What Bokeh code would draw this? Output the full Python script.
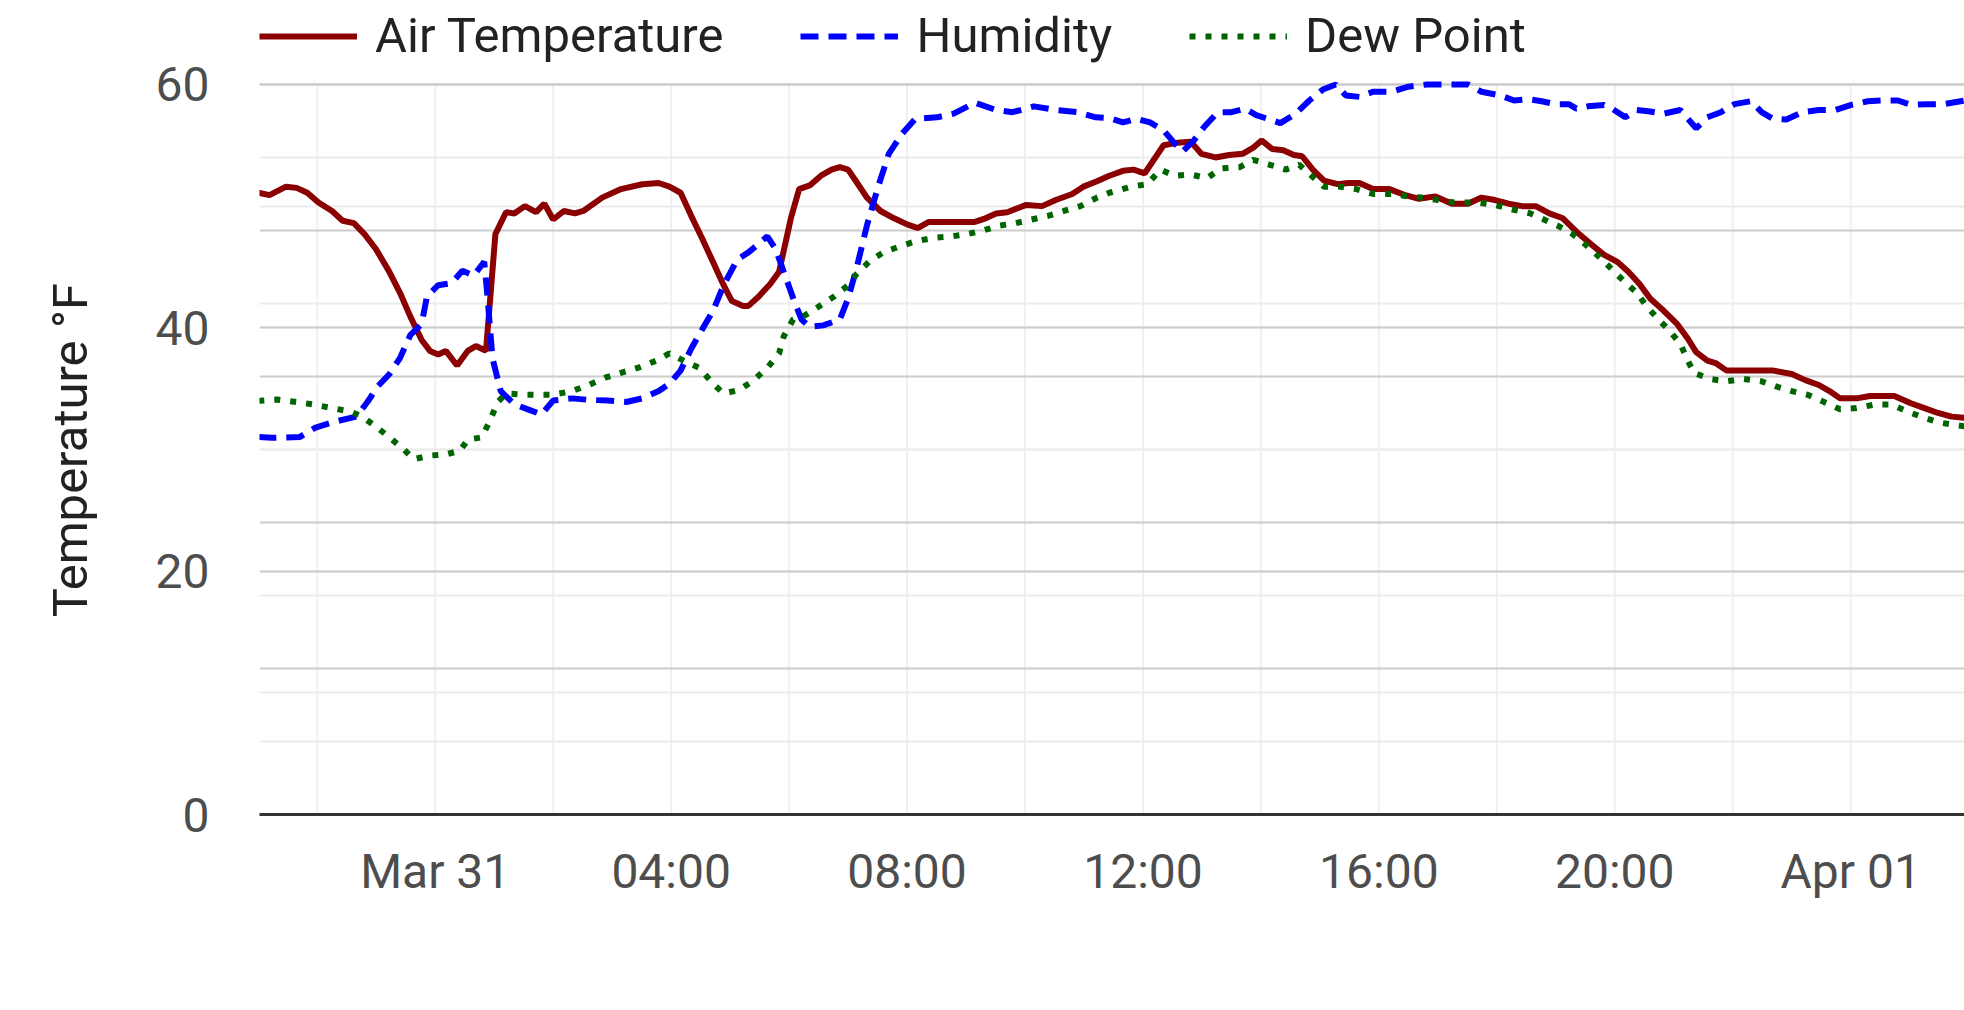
from bokeh.plotting import figure
from bokeh.models import (Range1d, SingleIntervalTicker, FixedTicker, Grid,
                          Legend, LegendItem)
from bokeh.embed import file_html
from bokeh.resources import INLINE

# Time in hours relative to Mar 31 00:00
air_hours = [-3.0, -2.81, -2.53, -2.35, -2.17, -1.98, -1.75, -1.57, -1.38, -1.20,
             -1.01, -0.79, -0.60, -0.42, -0.23, -0.09, 0.05, 0.18, 0.37, 0.55,
             0.69, 0.86, 1.02, 1.20, 1.34, 1.52, 1.71, 1.85, 2.00, 2.18,
             2.37, 2.51, 2.83, 3.15, 3.51, 3.79, 3.97, 4.16, 4.34, 4.53,
             4.71, 4.89, 5.03, 5.22, 5.31, 5.49, 5.68, 5.83, 6.03, 6.17,
             6.35, 6.54, 6.72, 6.86, 7.00, 7.14, 7.32, 7.55, 7.78, 8.00,
             8.18, 8.37, 8.69, 9.15, 9.33, 9.51, 9.70, 10.02, 10.29, 10.52,
             10.80, 10.99, 11.20, 11.43, 11.66, 11.84, 12.03, 12.35, 12.58, 12.81,
             12.99, 13.23, 13.46, 13.69, 13.87, 14.01, 14.19, 14.38, 14.56, 14.70,
             14.88, 15.07, 15.30, 15.48, 15.67, 15.90, 16.18, 16.45, 16.68, 16.96,
             17.24, 17.51, 17.74, 17.97, 18.20, 18.43, 18.66, 18.89, 19.12, 19.35,
             19.59, 19.82, 20.05, 20.23, 20.42, 20.60, 20.83, 21.06, 21.24, 21.38,
             21.57, 21.71, 21.89, 22.17, 22.67, 23.00, 23.23, 23.46, 23.64, 23.82,
             24.10, 24.33, 24.74, 25.02, 25.25, 25.48, 25.71, 25.93]
air_temp = [51.1, 50.9, 51.6, 51.5, 51.1, 50.3, 49.6, 48.8, 48.6, 47.7,
            46.5, 44.7, 42.9, 40.9, 39.0, 38.1, 37.8, 38.1, 36.9, 38.1,
            38.5, 38.1, 47.7, 49.5, 49.4, 50.0, 49.5, 50.2, 48.9, 49.6,
            49.4, 49.6, 50.7, 51.4, 51.8, 51.9, 51.6, 51.1, 49.2, 47.3,
            45.4, 43.5, 42.2, 41.8, 41.8, 42.6, 43.6, 44.6, 49.0, 51.4,
            51.7, 52.5, 53.0, 53.2, 53.0, 52.0, 50.7, 49.6, 49.0, 48.5,
            48.2, 48.7, 48.7, 48.7, 49.0, 49.4, 49.5, 50.1, 50.0, 50.5,
            51.0, 51.6, 52.0, 52.5, 52.9, 53.0, 52.7, 55.0, 55.2, 55.3,
            54.3, 54.0, 54.2, 54.3, 54.8, 55.4, 54.7, 54.6, 54.2, 54.1,
            53.0, 52.1, 51.8, 51.9, 51.9, 51.4, 51.4, 50.9, 50.6, 50.8,
            50.2, 50.2, 50.7, 50.5, 50.2, 50.0, 50.0, 49.4, 49.0, 47.9,
            46.9, 46.0, 45.4, 44.6, 43.6, 42.4, 41.4, 40.3, 39.1, 38.0,
            37.3, 37.1, 36.5, 36.5, 36.5, 36.2, 35.7, 35.3, 34.8, 34.2,
            34.2, 34.4, 34.4, 33.8, 33.4, 33.0, 32.7, 32.6]

hum_hours = [-3.0, -2.77, -2.30, -2.03, -1.71, -1.34, -1.15, -0.97, -0.78, -0.60,
             -0.42, -0.23, -0.14, 0.05, 0.28, 0.46, 0.65, 0.83, 0.88, 0.97,
             1.11, 1.34, 1.57, 1.80, 2.00, 2.32, 2.60, 2.92, 3.24, 3.51,
             3.79, 3.97, 4.16, 4.34, 4.53, 4.71, 4.89, 5.12, 5.31, 5.49,
             5.63, 5.77, 5.91, 6.07, 6.21, 6.35, 6.58, 6.86, 7.00, 7.14,
             7.32, 7.51, 7.69, 7.92, 8.14, 8.51, 8.79, 9.15, 9.51, 9.79,
             10.15, 10.52, 10.89, 11.20, 11.43, 11.66, 11.89, 12.12, 12.35, 12.53,
             12.67, 12.86, 13.04, 13.27, 13.50, 13.73, 13.92, 14.15, 14.33, 14.59,
             14.82, 15.05, 15.27, 15.44, 15.67, 15.90, 16.22, 16.50, 16.82, 17.19,
             17.51, 17.74, 18.06, 18.29, 18.53, 18.76, 18.99, 19.22, 19.35, 19.54,
             19.82, 19.95, 20.18, 20.37, 20.60, 20.83, 21.11, 21.24, 21.38, 21.57,
             21.80, 22.03, 22.31, 22.49, 22.68, 22.91, 23.18, 23.46, 23.74, 24.01,
             24.29, 24.52, 24.80, 25.02, 25.30, 25.57, 25.93]
humidity = [51.7, 51.6, 51.7, 53.0, 53.8, 54.5, 56.5, 58.7, 60.3, 62.5,
            65.7, 67.2, 71.0, 72.5, 72.8, 74.5, 73.8, 75.7, 71.5, 62.5,
            58.0, 56.2, 55.5, 54.8, 56.7, 57.0, 56.8, 56.7, 56.5, 57.0,
            58.0, 59.0, 60.8, 63.8, 66.5, 69.0, 72.5, 76.0, 77.0, 78.2,
            79.2, 77.5, 74.3, 70.7, 67.8, 66.8, 67.0, 67.8, 70.7, 74.7,
            80.7, 86.0, 90.5, 93.3, 95.3, 95.5, 96.0, 97.5, 96.5, 96.2,
            97.0, 96.5, 96.2, 95.5, 95.4, 94.8, 95.3, 94.8, 93.7, 92.0,
            90.8, 92.3, 94.2, 96.2, 96.2, 96.7, 95.8, 95.2, 94.7, 96.0,
            97.8, 99.3, 100.0, 98.5, 98.3, 99.0, 99.0, 99.7, 100.0, 100.0,
            100.0, 99.0, 98.5, 97.8, 98.0, 97.7, 97.3, 97.3, 96.7, 97.0,
            97.2, 96.7, 95.5, 96.5, 96.3, 96.0, 96.5, 95.3, 94.0, 95.5,
            96.2, 97.3, 97.7, 96.2, 95.3, 95.2, 96.2, 96.5, 96.5, 97.2,
            97.7, 97.8, 97.8, 97.2, 97.3, 97.3, 97.8]

dew_hours = [-3.0, -2.68, -2.35, -2.07, -1.75, -1.43, -1.24, -1.01, -0.78, -0.55,
             -0.37, -0.09, 0.18, 0.42, 0.55, 0.79, 0.92, 1.06, 1.20, 1.52,
             1.80, 2.00, 2.32, 2.60, 2.88, 3.15, 3.43, 3.75, 3.97, 4.25,
             4.48, 4.71, 4.89, 5.16, 5.40, 5.63, 5.83, 5.91, 6.07, 6.26,
             6.49, 6.77, 7.00, 7.14, 7.37, 7.60, 7.88, 8.14, 8.46, 8.74,
             9.02, 9.29, 9.57, 9.84, 10.11, 10.39, 10.66, 10.94, 11.22, 11.43,
             11.80, 12.07, 12.30, 12.53, 12.81, 13.09, 13.32, 13.64, 13.87, 14.15,
             14.42, 14.65, 14.88, 15.07, 15.35, 15.62, 15.90, 16.22, 16.50, 16.73,
             17.00, 17.28, 17.65, 17.97, 18.29, 18.57, 18.80, 19.03, 19.26, 19.49,
             19.72, 19.91, 20.14, 20.37, 20.55, 20.74, 20.92, 21.11, 21.24, 21.34,
             21.61, 21.89, 22.17, 22.49, 22.72, 23.00, 23.27, 23.55, 23.82, 24.10,
             24.42, 24.69, 24.97, 25.25, 25.52, 25.93]
dew_point = [34.0, 34.1, 33.9, 33.7, 33.4, 33.1, 32.7, 31.9, 31.0, 30.1,
             29.2, 29.5, 29.6, 29.9, 30.8, 31.0, 32.3, 33.9, 34.6, 34.5,
             34.5, 34.5, 34.8, 35.3, 35.9, 36.3, 36.7, 37.3, 37.9, 37.2,
             36.7, 35.4, 34.6, 34.9, 35.7, 36.7, 37.9, 39.3, 40.7, 41.0,
             41.7, 42.6, 43.5, 44.4, 45.5, 46.2, 46.7, 47.1, 47.4, 47.5,
             47.7, 48.0, 48.4, 48.6, 48.9, 49.2, 49.6, 50.0, 50.7, 51.1,
             51.6, 51.8, 53.0, 52.5, 52.6, 52.3, 53.1, 53.2, 53.8, 53.4,
             53.0, 53.4, 52.4, 51.6, 51.6, 51.4, 51.0, 51.0, 50.8, 50.7,
             50.5, 50.3, 50.3, 50.1, 49.7, 49.4, 48.9, 48.4, 47.8, 46.9,
             45.9, 45.0, 43.9, 42.9, 41.7, 40.7, 39.8, 38.7, 37.3, 36.3,
             35.8, 35.6, 35.8, 35.6, 35.2, 34.8, 34.5, 33.9, 33.3, 33.4,
             33.7, 33.7, 33.1, 32.6, 32.2, 31.9]

tick_hours = [0, 4, 8, 12, 16, 20, 24]
tick_labels = ["Mar 31", "04:00", "08:00", "12:00", "16:00", "20:00", "Apr 01"]
minor_hours = [-2, 2, 6, 10, 14, 18, 22]

temp_ticks = [0, 20, 40, 60]
hum_ticks = [0, 20, 40, 60, 80, 100]
hum_minor_ticks = [10, 30, 50, 70, 90]

series_names = ["Air Temperature", "Humidity", "Dew Point"]

FONT = "Roboto"
FRAME_H = 814
Y_TOP = 66.9          # frame extends above 60 to leave room for the legend

p = figure(frame_width=1705, frame_height=FRAME_H,
           output_backend="svg", toolbar_location=None,
           x_range=Range1d(-2.98, 25.93), y_range=Range1d(0, Y_TOP),
           min_border_left=259, min_border_right=0, min_border_top=0,
           min_border_bottom=150)
p.title.visible = False
p.extra_y_ranges = {"hum": Range1d(0, Y_TOP * 100 / 60)}
p.outline_line_color = None
p.background_fill_color = "white"
p.border_fill_color = "white"

# x axis
p.xaxis.ticker = FixedTicker(ticks=tick_hours, minor_ticks=minor_hours)
p.xaxis.major_label_overrides = dict(zip(tick_hours, tick_labels))
p.xaxis.axis_line_color = "#333333"
p.xaxis.axis_line_width = 3
p.xaxis.major_tick_line_color = None
p.xaxis.minor_tick_line_color = None
p.xaxis.major_label_standoff = 22
p.xaxis.major_label_text_font = FONT
p.xaxis.major_label_text_font_size = "48px"
p.xaxis.major_label_text_color = "#4d4d4d"
p.xgrid.visible = False

# vertical gridlines (2-hour steps) stop at the top tick of the y axis
grid_hours = sorted(tick_hours + minor_hours)
p.segment(x0=grid_hours, y0=[temp_ticks[0]] * len(grid_hours),
          x1=grid_hours, y1=[temp_ticks[-1]] * len(grid_hours),
          line_color="#f0f0f0", line_width=2, level="underlay")

# y axis
p.yaxis.ticker = SingleIntervalTicker(interval=20, num_minor_ticks=2)
p.yaxis.axis_line_color = None
p.yaxis.major_tick_line_color = None
p.yaxis.minor_tick_line_color = None
p.yaxis.major_label_standoff = 44
p.yaxis.major_label_text_font = FONT
p.yaxis.major_label_text_font_size = "48px"
p.yaxis.major_label_text_color = "#4d4d4d"
p.yaxis.axis_label = "Temperature \u00b0F" + "\u00a0" * 7
p.yaxis.axis_label_text_font = FONT
p.yaxis.axis_label_text_font_size = "49px"
p.yaxis.axis_label_text_font_style = "normal"
p.yaxis.axis_label_text_color = "#222222"
p.yaxis.axis_label_standoff = 54

p.ygrid.grid_line_color = "#cccccc"
p.ygrid.grid_line_width = 2
p.ygrid.minor_grid_line_color = "#ebebeb"
p.ygrid.minor_grid_line_width = 2

# gridlines of the (off-screen) humidity axis: 20% steps on 0-100
hum_grid = Grid(dimension=1, y_range_name="hum",
                ticker=FixedTicker(ticks=hum_ticks, minor_ticks=hum_minor_ticks),
                grid_line_color="#cccccc", grid_line_width=2,
                minor_grid_line_color="#ebebeb", minor_grid_line_width=2)
p.add_layout(hum_grid)

r_air = p.line(air_hours, air_temp, line_color="#8b0000", line_width=6)
r_hum = p.line(hum_hours, humidity, y_range_name="hum", line_color="#0000ff",
               line_width=6, line_dash="18 10")
r_dew = p.line(dew_hours, dew_point, line_color="#006400", line_width=6,
               line_dash="6 10")

legend = Legend(items=[LegendItem(label=series_names[0], renderers=[r_air]),
                       LegendItem(label=series_names[1], renderers=[r_hum]),
                       LegendItem(label=series_names[2], renderers=[r_dew])],
                orientation="horizontal", location=(0, FRAME_H - 64),
                glyph_width=98, glyph_height=40, label_standoff=18, spacing=77,
                label_text_font=FONT, label_text_font_size="49px",
                label_text_color="#222222", padding=0, margin=0,
                border_line_color=None, background_fill_alpha=0)
p.add_layout(legend)

open("out.html", "w").write(file_html(p, INLINE))
